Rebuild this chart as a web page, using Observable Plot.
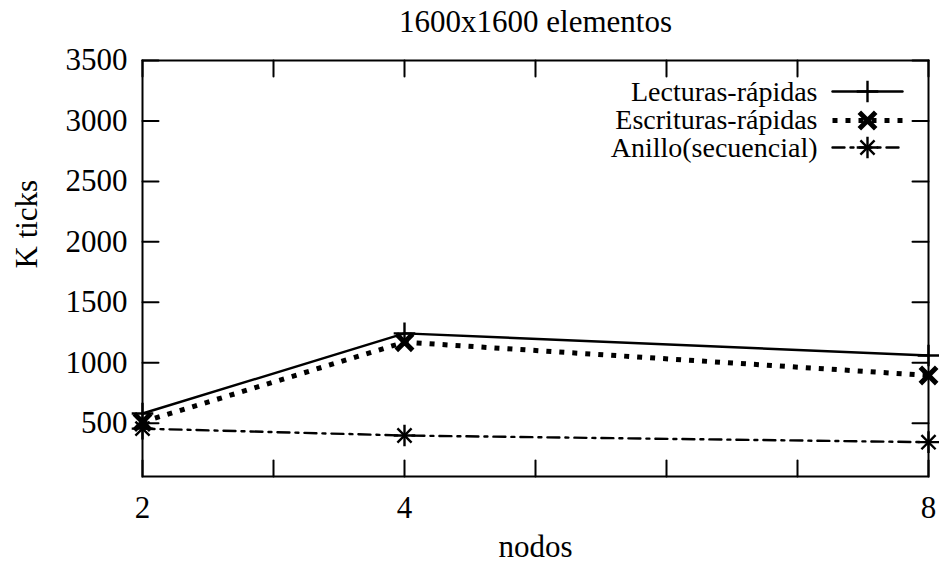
<!DOCTYPE html>
<html>
<head>
<meta charset="utf-8">
<script src="https://cdn.jsdelivr.net/npm/d3@7"></script>
<script src="https://cdn.jsdelivr.net/npm/@observablehq/plot@0.6"></script>
<style>
  body { margin: 0; background: #fff; }
</style>
</head>
<body>
<div id="chart"></div>
<script>
// Execution time (thousands of ticks) of a 1600x1600 matrix run by node count
const nodos = [2, 4, 8];
const lecturas = [580, 1243, 1060];
const escrituras = [510, 1170, 895];
const anillo = [455, 398, 343];
const seriesNames = ["Lecturas-rápidas", "Escrituras-rápidas", "Anillo(secuencial)"];

const xTicks = [2, 3, 4, 5, 6, 7, 8];
const xTickLabels = [2, 4, 8];
const yTicks = [500, 1000, 1500, 2000, 2500, 3000, 3500];
const yDomain = [59, 3500];

const title = "1600x1600 elementos";
const xLabel = "nodos";
const yLabel = "K ticks";

const rows = nodos.map((n, i) => ({
  nodos: n,
  lecturas: lecturas[i],
  escrituras: escrituras[i],
  anillo: anillo[i]
}));

// plain straight segment used for inward tick marks and legend samples
const segment = {
  draw(context, l) {
    context.moveTo(0, 0);
    context.lineTo(0, -l);
  }
};

const TICK = 16;
const solidStyle = { strokeWidth: 2.4 };
const dotStyle = { strokeDasharray: "5,8", strokeWidth: 5, strokeLinecap: "butt" };
const dashDotStyle = { strokeDasharray: "12,6,3,6", strokeWidth: 2.4 };
const txt = { text: d => d, lineAnchor: "middle", fontSize: 31 };
const keyTxt = { ...txt, fontSize: 28, letterSpacing: "0.6px", frameAnchor: "top-right", dx: -111, textAnchor: "end" };
const keyRow = [32, 60, 88];

const plot = Plot.plot({
  width: 939,
  height: 563,
  marginLeft: 142,
  marginRight: 11,
  marginTop: 60,
  marginBottom: 87,
  style: { fontFamily: "'Liberation Serif', serif", fontSize: "31px", color: "#000", background: "#fff" },
  x: { type: "linear", domain: [2, 8], axis: null },
  y: { type: "linear", domain: yDomain, axis: null },
  marks: [
    // tick labels
    Plot.axisX({ ticks: xTickLabels, tickSize: 0, tickPadding: 19, label: null, fontSize: 31, tickFormat: d => String(d) }),
    Plot.axisY({ ticks: yTicks, tickSize: 0, tickPadding: 15, label: null, fontSize: 31, tickFormat: d => String(d) }),

    // inward ticks on all four sides
    Plot.vector(yTicks, { y: d => d, frameAnchor: "left", rotate: 90, length: TICK, anchor: "start", shape: segment, strokeWidth: 2 }),
    Plot.vector(yTicks, { y: d => d, frameAnchor: "right", rotate: -90, length: TICK, anchor: "start", shape: segment, strokeWidth: 2 }),
    Plot.vector(xTicks, { x: d => d, frameAnchor: "bottom", rotate: 0, length: TICK, anchor: "start", shape: segment, strokeWidth: 2 }),
    Plot.vector(xTicks, { x: d => d, frameAnchor: "top", rotate: 180, length: TICK, anchor: "start", shape: segment, strokeWidth: 2 }),

    Plot.frame({ strokeWidth: 2 }),

    // titles
    Plot.text([title], { ...txt, frameAnchor: "top", dy: -38 }),
    Plot.text([xLabel], { ...txt, frameAnchor: "bottom", dy: 71 }),
    Plot.text([yLabel], { ...txt, frameAnchor: "left", rotate: -90, dx: -115 }),

    // Lecturas-rápidas
    Plot.line(rows, { x: "nodos", y: "lecturas", ...solidStyle }),
    Plot.dot(rows, { x: "nodos", y: "lecturas", symbol: "plus", r: 7, strokeWidth: 2.4, stroke: "#000" }),

    // Escrituras-rápidas
    Plot.line(rows, { x: "nodos", y: "escrituras", ...dotStyle }),
    Plot.dot(rows, { x: "nodos", y: "escrituras", symbol: "times", r: 7.5, strokeWidth: 5, stroke: "#000" }),

    // Anillo(secuencial)
    Plot.line(rows, { x: "nodos", y: "anillo", ...dashDotStyle }),
    Plot.dot(rows, { x: "nodos", y: "anillo", symbol: "plus", r: 7, strokeWidth: 2.4, stroke: "#000" }),
    Plot.dot(rows, { x: "nodos", y: "anillo", symbol: "times", r: 6.5, strokeWidth: 2.4, stroke: "#000" }),

    // key
    Plot.text([seriesNames[0]], { ...keyTxt, dy: keyRow[0] }),
    Plot.text([seriesNames[1]], { ...keyTxt, dy: keyRow[1] }),
    Plot.text([seriesNames[2]], { ...keyTxt, dy: keyRow[2] }),

    Plot.vector([seriesNames[0]], { frameAnchor: "top-right", dx: -96, dy: keyRow[0] - 1, rotate: 90, length: 70, anchor: "start", shape: segment, ...solidStyle }),
    Plot.dot([seriesNames[0]], { frameAnchor: "top-right", dx: -61, dy: keyRow[0] - 1, symbol: "plus", r: 7, strokeWidth: 2.4, stroke: "#000" }),

    Plot.vector([seriesNames[1]], { frameAnchor: "top-right", dx: -96, dy: keyRow[1], rotate: 90, length: 70, anchor: "start", shape: segment, ...dotStyle }),
    Plot.dot([seriesNames[1]], { frameAnchor: "top-right", dx: -61, dy: keyRow[1], symbol: "times", r: 7.5, strokeWidth: 5, stroke: "#000" }),

    Plot.vector([seriesNames[2]], { frameAnchor: "top-right", dx: -96, dy: keyRow[2] - 1, rotate: 90, length: 70, anchor: "start", shape: segment, ...dashDotStyle }),
    Plot.dot([seriesNames[2]], { frameAnchor: "top-right", dx: -61, dy: keyRow[2] - 1, symbol: "plus", r: 7, strokeWidth: 2.4, stroke: "#000" }),
    Plot.dot([seriesNames[2]], { frameAnchor: "top-right", dx: -61, dy: keyRow[2] - 1, symbol: "times", r: 6.5, strokeWidth: 2.4, stroke: "#000" })
  ]
});

document.getElementById("chart").appendChild(plot);
</script>
</body>
</html>
